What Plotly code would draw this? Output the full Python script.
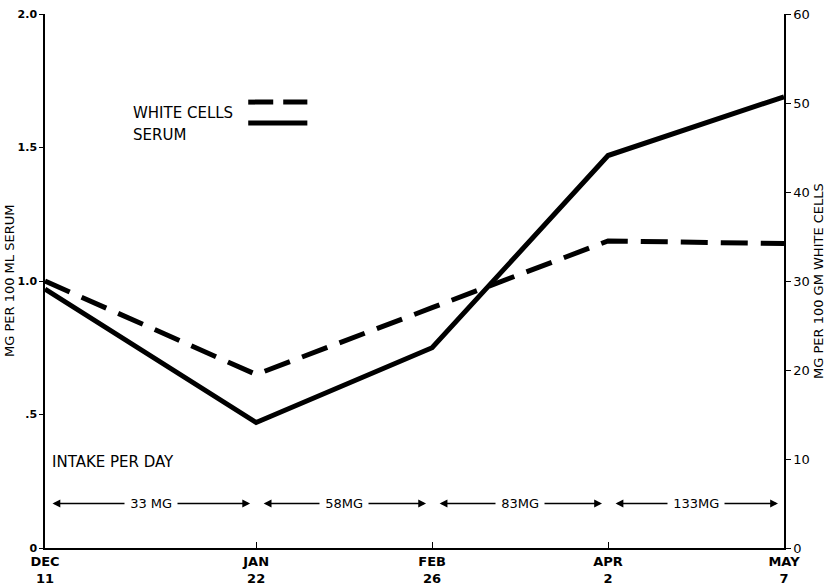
import pandas as pd
import plotly.graph_objects as go

# ---- data ----
dates = ["1950-12-11", "1951-01-22", "1951-02-26", "1951-04-02", "1951-05-07"]
date_labels = ["DEC<br>11", "JAN<br>22", "FEB<br>26", "APR<br>2", "MAY<br>7"]
serum = [0.97, 0.47, 0.75, 1.47, 1.69]          # mg per 100 ml serum (left)
white_cells = [30.0, 19.5, 27.0, 34.5, 34.2]     # mg per 100 gm white cells (right)
intake_labels = ["33 MG", "58MG", "83MG", "133MG"]
left_ticks = [0, 0.5, 1.0, 1.5, 2.0]
left_ticktext = ["0", ".5", "1.0", "1.5", "2.0"]
right_ticks = [0, 10, 20, 30, 40, 50, 60]

d = pd.to_datetime(dates)
days = [(x - d[0]).days for x in d]

FONT = "DejaVu Sans"
TXT = dict(family=FONT, size=15, color="black")
fig = go.Figure()

fig.add_trace(go.Scatter(x=days, y=white_cells, yaxis="y2", mode="lines",
                         line=dict(color="black", width=5, dash="27px,13px"),
                         showlegend=False, hoverinfo="skip"))
fig.add_trace(go.Scatter(x=days, y=serum, mode="lines",
                         line=dict(color="black", width=5),
                         showlegend=False, hoverinfo="skip"))

# intake arrows
arrow_y = 5  # on right axis units
for i in range(len(intake_labels)):
    a, b = days[i], days[i + 1]
    fig.add_annotation(x=b - 1.2, y=arrow_y, ax=a + 1.2, ay=arrow_y,
                       xref="x", yref="y2", axref="x", ayref="y2",
                       text="", showarrow=True, arrowhead=2, arrowsize=1.2,
                       arrowwidth=1.3, arrowside="end+start", arrowcolor="black")
    fig.add_annotation(x=(a + b) / 2, y=arrow_y, xref="x", yref="y2",
                       text="&nbsp;" + intake_labels[i] + "&nbsp;", showarrow=False,
                       bgcolor="white", borderpad=1,
                       font=dict(family=FONT, size=13, color="black"))

fig.add_annotation(x=0.007, y=(548 - 473) / 534, xref="paper", yref="paper",
                   text="INTAKE PER DAY", showarrow=False, xanchor="left", font=TXT)

# legend (text then line sample)
fig.add_annotation(x=0.116, y=0.835, xref="paper", yref="paper", text="WHITE CELLS",
                   showarrow=False, xanchor="left", font=TXT)
fig.add_annotation(x=0.116, y=0.794, xref="paper", yref="paper", text="SERUM",
                   showarrow=False, xanchor="left", font=TXT)
fig.add_shape(type="line", xref="paper", yref="paper", x0=0.275, x1=0.355,
              y0=0.835, y1=0.835, line=dict(color="black", width=5, dash="25px,10px"))
fig.add_shape(type="line", xref="paper", yref="paper", x0=0.275, x1=0.355,
              y0=0.796, y1=0.796, line=dict(color="black", width=5))

# axis titles
TTL = dict(family=FONT, size=13, color="black")
fig.add_annotation(x=-0.0487, y=0.5, xref="paper", yref="paper", xanchor="center",
                   yanchor="middle", text="MG PER 100 ML SERUM", textangle=-90,
                   showarrow=False, font=TTL)
fig.add_annotation(x=1.046, y=0.5, xref="paper", yref="paper", xanchor="center",
                   yanchor="middle", text="MG PER 100 GM WHITE CELLS", textangle=-90,
                   showarrow=False, font=TTL)

tickfont = dict(family=FONT, size=11, color="black", weight="bold")
fig.update_layout(
    width=831, height=584,
    margin=dict(l=45, r=47, t=14, b=36),
    paper_bgcolor="white", plot_bgcolor="white",
    font=dict(family=FONT, size=13, color="black"),
    hovermode=False,
    xaxis=dict(range=[days[0], days[-1]], tickvals=days, ticktext=date_labels,
               automargin=False, showgrid=False, zeroline=False, showline=True,
               linecolor="black", linewidth=2, ticks="inside", ticklen=6,
               tickcolor="black",
               tickfont=dict(family=FONT, size=13, color="black", weight="bold")),
    yaxis=dict(range=[0, 2.0], tickvals=left_ticks, ticktext=left_ticktext,
               automargin=False, showgrid=False, zeroline=False, showline=True,
               linecolor="black", linewidth=1.5, ticks="outside", ticklen=4,
               tickcolor="black", tickfont=tickfont),
    yaxis2=dict(range=[0, 60], tickvals=right_ticks, overlaying="y", side="right",
                automargin=False, showgrid=False, zeroline=False, showline=True,
                linecolor="black", linewidth=1.5, ticks="outside", ticklen=5,
                tickcolor="black", tickfont=dict(family=FONT, size=13, color="black")),
)

fig.write_html("out.html", config={"displayModeBar": False},
               post_script="document.body.style.margin='0';document.body.style.padding='0';")
